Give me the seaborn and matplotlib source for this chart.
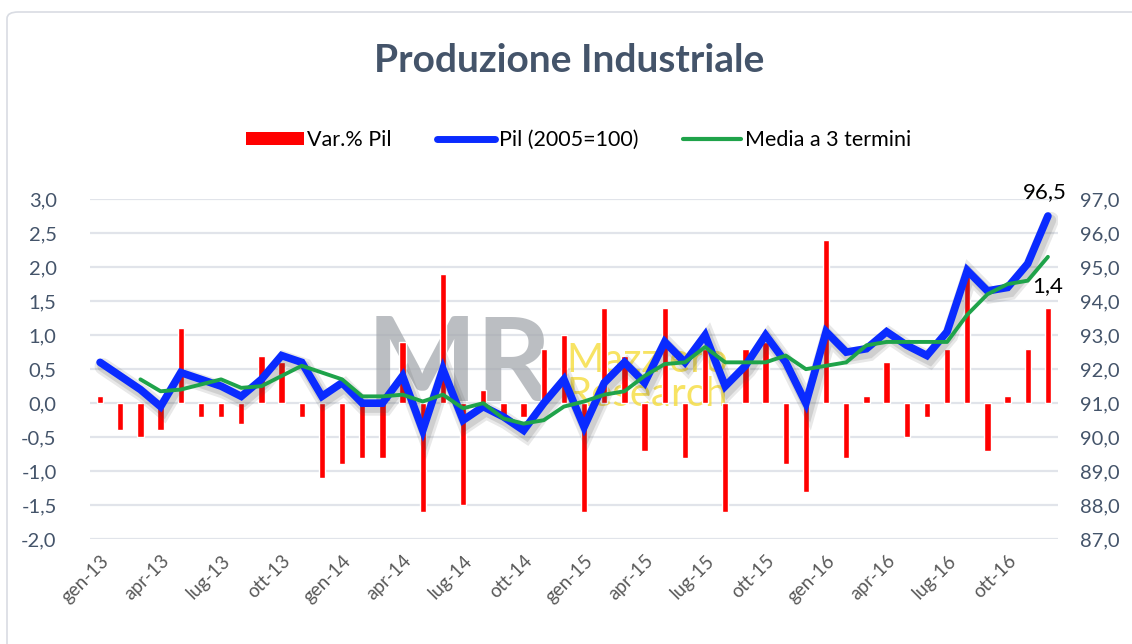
import numpy as np
import pandas as pd
import matplotlib
matplotlib.use("Agg")
import matplotlib.pyplot as plt
import matplotlib.patheffects as pe
from matplotlib.patches import Patch, FancyBboxPatch
from matplotlib.lines import Line2D
import seaborn as sns

# ---- data ----
months = ["gen", "feb", "mar", "apr", "mag", "giu", "lug", "ago", "set", "ott", "nov", "dic"]
years = ["13", "14", "15", "16"]
periods = [f"{m}-{y}" for y in years for m in months]

var_pil = [0.1, -0.4, -0.5, -0.4, 1.1, -0.2, -0.2, -0.3, 0.7, 0.6, -0.2, -1.1,
           -0.9, -0.8, -0.8, 0.9, -1.6, 1.9, -1.5, 0.2, -0.2, -0.2, 0.8, 1.0,
           -1.6, 1.4, 0.7, -0.7, 1.4, -0.8, 0.8, -1.6, 0.8, 0.9, -0.9, -1.3,
           2.4, -0.8, 0.1, 0.6, -0.5, -0.2, 0.8, 1.9, -0.7, 0.1, 0.8, 1.4]

pil_index = [92.2, 91.8, 91.4, 90.9, 91.9, 91.7, 91.5, 91.2, 91.7, 92.4, 92.2, 91.2,
             91.6, 91.0, 91.0, 91.8, 90.2, 92.0, 90.5, 90.9, 90.6, 90.2, 91.0, 91.7,
             90.3, 91.6, 92.2, 91.6, 92.8, 92.2, 93.0, 91.5, 92.1, 93.0, 92.2, 91.0,
             93.1, 92.5, 92.6, 93.1, 92.7, 92.4, 93.1, 94.9, 94.3, 94.4, 95.1, 96.5]

media3 = [np.nan, np.nan, 91.7, 91.35, 91.4, 91.55, 91.7, 91.45, 91.5, 91.8, 92.1, 91.9,
          91.7, 91.2, 91.2, 91.25, 91.05, 91.25, 90.85, 91.0, 90.55, 90.4, 90.5, 90.9,
          91.05, 91.25, 91.35, 91.8, 92.15, 92.2, 92.65, 92.2, 92.2, 92.2, 92.4, 92.0,
          92.1, 92.2, 92.7, 92.8, 92.8, 92.8, 92.8, 93.6, 94.2, 94.5, 94.6, 95.3]

left_ticks = [3.0, 2.5, 2.0, 1.5, 1.0, 0.5, 0.0, -0.5, -1.0, -1.5, -2.0]
right_ticks = [97.0, 96.0, 95.0, 94.0, 93.0, 92.0, 91.0, 90.0, 89.0, 88.0, 87.0]

pos = list(range(len(periods)))
df = pd.DataFrame({"pos": pos, "periodo": periods, "var": var_pil,
                   "pil": pil_index, "media": media3})

# ---- style ----
sns.set_theme(style="white")
plt.rcParams["font.family"] = ["Lato", "DejaVu Sans"]

TXT = "#44546A"
fig = plt.figure(figsize=(11.32, 6.44), dpi=100)
ax = fig.add_axes([90 / 1132, 1 - 539.3 / 644, 968 / 1132, 340.3 / 644])

# outer light border
fig.patches.append(FancyBboxPatch((7 / 1132, -0.05), 1.2, 1 - 12 / 644 + 0.05,
                                  boxstyle="round,pad=0,rounding_size=0.01",
                                  transform=fig.transFigure, fill=False,
                                  edgecolor="#D9DCE3", linewidth=1.2, zorder=0))

# bars
sns.barplot(data=df, x="pos", y="var", native_scale=True, color="#FF0000",
            width=0.32, saturation=1, ax=ax, zorder=3)
ax.set_ylim(-2.0, 3.0)
ax.set_xlim(-0.5, len(periods) - 0.5)
ax.set_yticks(left_ticks)
ax.set_yticklabels([f"{v:.1f}".replace(".", ",") for v in left_ticks],
                   color=TXT, fontsize=14.5)
ax.grid(axis="y", color="#E1E4EA", linewidth=1.6, zorder=0)
ax.grid(axis="x", visible=False)
ax.set_axisbelow(True)
for s in ax.spines.values():
    s.set_visible(False)
ax.tick_params(axis="both", length=0)
ax.tick_params(axis="y", pad=24)
ax.set_xlabel("")
ax.set_ylabel("")

xt = pos[::3]
ax.set_xticks(xt)
ax.set_xticklabels([periods[i] for i in xt], rotation=45, ha="right",
                   rotation_mode="anchor", color="#595959", fontsize=13.5)
ax.tick_params(axis="x", pad=9)

# watermark
ax.text(17.8, 0.53, "MR", fontsize=84, fontweight="bold", color="#A5A9AE",
        alpha=0.75, ha="center", va="center", zorder=1)
ax.text(23.1, 0.38, "Mazziero\nResearch", fontsize=29, color="#F5DC3C",
        alpha=0.8, ha="left", va="center", zorder=1, linespacing=0.9)

# lines on right axis
ax2 = ax.twinx()
sns.lineplot(data=df, x="pos", y="pil", color="#0A2BFF", linewidth=5.5, ax=ax2,
             path_effects=[pe.SimpleLineShadow(offset=(2, -3), shadow_color="#444444",
                                               alpha=0.12, linewidth=12),
                           pe.SimpleLineShadow(offset=(2, -3), shadow_color="#444444",
                                               alpha=0.15, linewidth=8),
                           pe.Normal()],
             solid_capstyle="round", solid_joinstyle="miter", zorder=4)
sns.lineplot(data=df, x="pos", y="media", color="#1FA34A", linewidth=2.8, ax=ax2,
             zorder=5)
ax2.set_ylim(87.0, 97.0)
ax2.set_xlim(-0.5, len(periods) - 0.5)
ax2.set_yticks(right_ticks)
ax2.set_yticklabels([f"{v:.1f}".replace(".", ",") for v in right_ticks],
                    color=TXT, fontsize=14.5)
ax2.tick_params(axis="y", length=0, pad=16)
ax2.grid(False)
for s in ax2.spines.values():
    s.set_visible(False)
ax2.set_xlabel("")
ax2.set_ylabel("")

# data labels
last = len(periods) - 1
ax2.annotate(f"{pil_index[-1]:.1f}".replace(".", ","), (last, pil_index[-1]),
             xytext=(-2, 10), textcoords="offset points", ha="center",
             va="bottom", fontsize=16, color="black")
ax2.annotate(f"{var_pil[-1]:.1f}".replace(".", ","), (last, media3[-1]),
             xytext=(0, -14), textcoords="offset points", ha="center",
             va="top", fontsize=16, color="black")

# title & legend
fig.text(0.503, 1 - 60 / 644, "Produzione Industriale", ha="center", va="center",
         fontsize=28, fontweight="bold", color=TXT)
handles = [Patch(facecolor="#FF0000", edgecolor="none"),
           Line2D([], [], color="#0A2BFF", linewidth=5, solid_capstyle="round"),
           Line2D([], [], color="#1FA34A", linewidth=3, solid_capstyle="round")]
labels = ["Var.% Pil", "Pil (2005=100)", "Media a 3 termini"]
fig.legend(handles, labels, loc="center", bbox_to_anchor=(0.511, 1 - 140 / 644),
           ncol=3, frameon=False, fontsize=15.5, handlelength=2.7,
           handleheight=0.6, handletextpad=0.15, columnspacing=2.1,
           labelcolor="black")

fig.savefig("out.png", dpi=100)
